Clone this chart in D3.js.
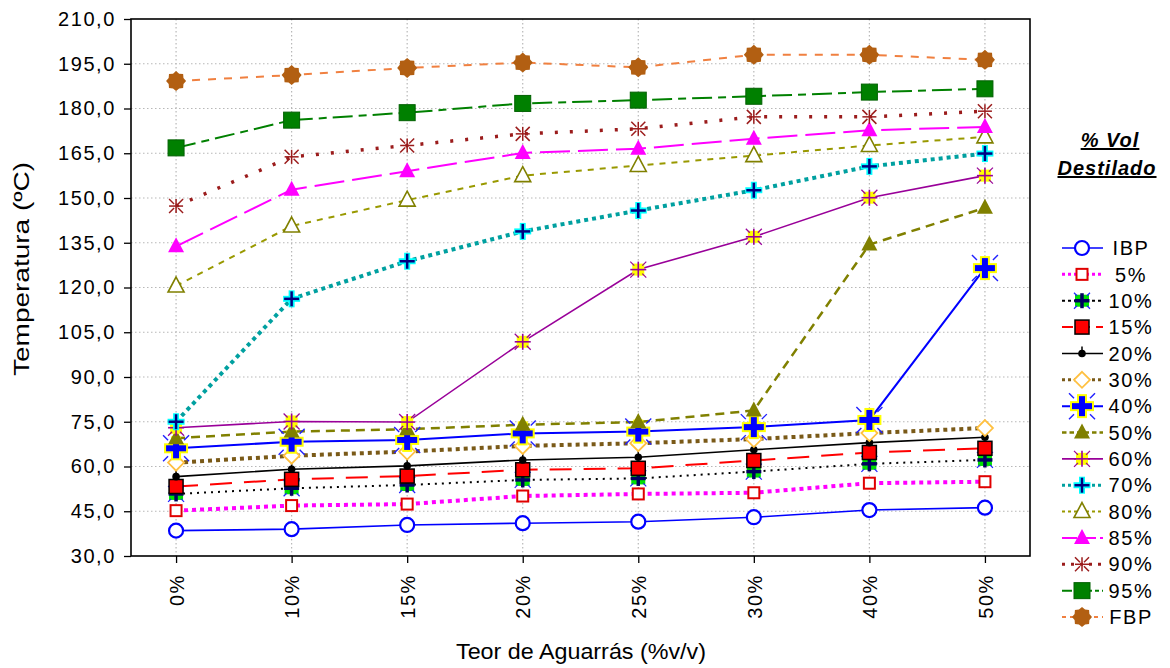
<!DOCTYPE html>
<html>
<head>
<meta charset="utf-8">
<script src="https://cdn.jsdelivr.net/npm/d3@7"></script>
<style>
  body { margin: 0; background: #fff; }
  svg text { font-family: "Liberation Sans", Arial, sans-serif; fill: #000; }
</style>
</head>
<body>
<svg class="chart"></svg>
<script>
const size = {w: 1170, h: 668};
const plot = {left: 131, right: 1030, top: 19, bottom: 556};

// categories on the x axis
const categories = ['0%', '10%', '15%', '20%', '25%', '30%', '40%', '50%'];
const yTicks = [30, 45, 60, 75, 90, 105, 120, 135, 150, 165, 180, 195, 210];

// one array per distillation point (temperature in ºC)
const seriesNames = ['IBP', '5%', '10%', '15%', '20%', '30%', '40%', '50%', '60%', '70%', '80%', '85%', '90%', '95%', 'FBP'];
const ibp  = [38.5, 39.0, 40.4, 41.0, 41.5, 43.0, 45.4, 46.2];
const p5   = [45.2, 46.9, 47.4, 50.1, 50.8, 51.2, 54.4, 54.9];
const p10  = [50.8, 52.7, 53.8, 55.5, 56.0, 58.3, 60.9, 62.2];
const p15  = [53.3, 55.7, 56.8, 58.9, 59.4, 62.0, 64.7, 66.1];
const p20  = [56.6, 59.1, 60.2, 62.2, 63.1, 65.6, 68.0, 69.8];
const p30  = [61.3, 63.6, 65.0, 66.9, 67.8, 69.2, 71.2, 72.9];
const p40  = [66.1, 68.3, 68.9, 71.1, 71.7, 73.2, 75.6, 126.5];
const p50  = [69.5, 71.7, 72.5, 74.0, 74.9, 78.8, 134.4, 146.7];
const p60  = [73.0, 75.1, 74.9, 101.8, 126.0, 137.0, 150.1, 157.5];
const p70  = [75.0, 116.2, 128.8, 138.8, 145.8, 152.6, 160.6, 164.9];
const p80  = [120.5, 140.6, 149.3, 157.5, 160.9, 164.2, 167.6, 170.5];
const p85  = [133.8, 152.8, 159.0, 165.1, 166.5, 169.9, 172.7, 173.8];
const p90  = [147.3, 163.8, 167.6, 171.5, 173.2, 177.2, 177.2, 179.1];
const p95  = [166.8, 176.1, 178.6, 181.7, 182.8, 184.1, 185.5, 186.6];
const fbp  = [189.2, 191.2, 193.6, 195.4, 193.8, 198.0, 198.0, 196.3];
const seriesValues = [ibp, p5, p10, p15, p20, p30, p40, p50, p60, p70, p80, p85, p90, p95, fbp];

// line + marker style for each series
const styles = [
  {color: '#0000ff', width: 1.6, dash: null,        marker: 'circleOpen'},
  {color: '#ff00ff', width: 4,   dash: '4,4',       marker: 'squareOpen'},
  {color: '#000000', width: 2,   dash: '2,5',       marker: 'greenCross'},
  {color: '#ff0000', width: 2,   dash: '22,12',     marker: 'squareRed'},
  {color: '#000000', width: 1.6, dash: null,        marker: 'dot'},
  {color: '#7a5a18', width: 4,   dash: '4,4',       marker: 'diamondOpen'},
  {color: '#0000ff', width: 2,   dash: null,        marker: 'bigPlus'},
  {color: '#808000', width: 2.5, dash: '9,6',       marker: 'triOlive'},
  {color: '#990099', width: 1.6, dash: null,        marker: 'purpleStar'},
  {color: '#00a0a0', width: 4,   dash: '4,4',       marker: 'cyanPlus'},
  {color: '#999900', width: 2,   dash: '6,6',       marker: 'triOpen'},
  {color: '#ff00ff', width: 2,   dash: '30,8',      marker: 'triMagenta'},
  {color: '#9b1c1c', width: 3.5, dash: '3,12',      marker: 'asterisk'},
  {color: '#008000', width: 2,   dash: '20,6,8,6',  marker: 'squareGreen'},
  {color: '#f08040', width: 2,   dash: '8,8',       marker: 'gear'}
];

const svg = d3.select('svg.chart')
  .attr('width', size.w)
  .attr('height', size.h);

const x = d3.scalePoint()
  .domain(categories)
  .range([plot.left, plot.right])
  .padding(0.39);

const y = d3.scaleLinear()
  .domain([30, 210])
  .range([plot.bottom, plot.top]);

// --------- GRID ----------
const grid = svg.append('g').attr('class', 'grid');
grid.selectAll('line.h')
  .data(yTicks.slice(1, -1))
  .join('line')
  .attr('x1', plot.left).attr('x2', plot.right)
  .attr('y1', d => y(d)).attr('y2', d => y(d))
  .attr('stroke', '#b8b8b8').attr('stroke-width', 1.2).attr('stroke-dasharray', '1.5,2.5');
grid.selectAll('line.v')
  .data(categories)
  .join('line')
  .attr('x1', d => x(d)).attr('x2', d => x(d))
  .attr('y1', plot.top).attr('y2', plot.bottom)
  .attr('stroke', '#b8b8b8').attr('stroke-width', 1.2).attr('stroke-dasharray', '1.5,2.5');

// --------- AXES ----------
const fmt = d => d3.format('.1f')(d).replace('.', ',');

const yAxis = d3.axisLeft(y).tickValues(yTicks).tickFormat(fmt).tickSize(7).tickPadding(8);
const yG = svg.append('g')
  .attr('transform', `translate(${plot.left},0)`)
  .call(yAxis);
yG.select('.domain').remove();
yG.selectAll('text')
  .style('font-size', '20px')
  .style('letter-spacing', '1.6px')
  .style('font-family', '"Liberation Sans", Arial, sans-serif');

const xAxis = d3.axisBottom(x).tickSize(7).tickPadding(0);
const xG = svg.append('g')
  .attr('transform', `translate(0,${plot.bottom})`)
  .call(xAxis);
xG.select('.domain').remove();
xG.selectAll('text')
  .attr('transform', 'rotate(-90)')
  .attr('x', -18)
  .attr('y', 0)
  .attr('dy', '0.36em')
  .attr('text-anchor', 'end')
  .style('font-size', '20px')
  .style('letter-spacing', '1.6px')
  .style('font-family', '"Liberation Sans", Arial, sans-serif');

svg.selectAll('.tick line').attr('stroke', '#000').attr('stroke-width', 1.3);

// frame
svg.append('rect')
  .attr('x', plot.left).attr('y', plot.top)
  .attr('width', plot.right - plot.left).attr('height', plot.bottom - plot.top)
  .attr('fill', 'none').attr('stroke', '#000').attr('stroke-width', 1.6);

// axis titles (condensed look in the original, so stretch to its width)
svg.append('text')
  .attr('x', 581)
  .attr('y', 659)
  .attr('text-anchor', 'middle')
  .attr('textLength', 250)
  .attr('lengthAdjust', 'spacingAndGlyphs')
  .style('font-size', '22px')
  .text('Teor de Aguarrás (%v/v)');

svg.append('text')
  .attr('transform', 'translate(29,269) rotate(-90)')
  .attr('text-anchor', 'middle')
  .attr('textLength', 214)
  .attr('lengthAdjust', 'spacingAndGlyphs')
  .style('font-size', '22px')
  .text('Temperatura (ºC)');

// --------- MARKERS ----------
function plus(g, len, w, color) {
  g.append('line').attr('x1', -len / 2).attr('x2', len / 2).attr('y1', 0).attr('y2', 0)
    .attr('stroke', color).attr('stroke-width', w);
  g.append('line').attr('x1', 0).attr('x2', 0).attr('y1', -len / 2).attr('y2', len / 2)
    .attr('stroke', color).attr('stroke-width', w);
}
function rays(g, r1, r2, color, w) {
  [[1, 1], [1, -1], [-1, 1], [-1, -1]].forEach(([sx, sy]) => {
    g.append('line')
      .attr('x1', sx * r1).attr('y1', sy * r1).attr('x2', sx * r2).attr('y2', sy * r2)
      .attr('stroke', color).attr('stroke-width', w);
  });
}

function drawMarker(g, type) {
  switch (type) {
    case 'circleOpen':
      g.append('circle').attr('r', 7).attr('fill', '#fff').attr('stroke', '#0000ff').attr('stroke-width', 2.2);
      break;
    case 'squareOpen':
      g.append('rect').attr('x', -5.5).attr('y', -5.5).attr('width', 11).attr('height', 11)
        .attr('fill', '#fff').attr('stroke', '#e00000').attr('stroke-width', 2);
      break;
    case 'greenCross':
      g.append('rect').attr('x', -7).attr('y', -6).attr('width', 14).attr('height', 12).attr('fill', '#00e000');
      rays(g, 5, 8, '#2020ff', 1.2);
      plus(g, 15, 3.5, '#000060');
      break;
    case 'squareRed':
      g.append('rect').attr('x', -7).attr('y', -7).attr('width', 14).attr('height', 14)
        .attr('fill', '#ff0000').attr('stroke', '#000').attr('stroke-width', 1.5);
      break;
    case 'dot':
      g.append('line').attr('x1', 0).attr('x2', 0).attr('y1', -7).attr('y2', 0).attr('stroke', '#000').attr('stroke-width', 1.5);
      g.append('circle').attr('r', 3.8).attr('fill', '#000');
      break;
    case 'diamondOpen':
      g.append('path').attr('d', 'M0,-8L8,0L0,8L-8,0Z')
        .attr('fill', '#fff').attr('stroke', '#ffc040').attr('stroke-width', 1.8);
      break;
    case 'bigPlus':
      rays(g, 8, 13, '#2020ff', 1.4);
      plus(g, 24, 10, '#ffff00');
      plus(g, 20, 6, '#0000ff');
      break;
    case 'triOlive':
      g.append('path').attr('d', 'M0,-9L8,6L-8,6Z').attr('fill', '#808000');
      break;
    case 'purpleStar':
      g.append('rect').attr('x', -6).attr('y', -6).attr('width', 12).attr('height', 12).attr('fill', '#ffff00');
      rays(g, 4, 8, '#990099', 1.2);
      plus(g, 16, 1.6, '#990099');
      break;
    case 'cyanPlus':
      plus(g, 17, 6, '#00ffff');
      plus(g, 15, 2.5, '#000080');
      break;
    case 'triOpen':
      g.append('path').attr('d', 'M0,-9L8,6L-8,6Z')
        .attr('fill', '#fff').attr('stroke', '#808000').attr('stroke-width', 1.6);
      break;
    case 'triMagenta':
      g.append('path').attr('d', 'M0,-9L8,6L-8,6Z').attr('fill', '#ff00ff');
      break;
    case 'asterisk':
      plus(g, 14, 1.5, '#9b1c1c');
      rays(g, 2, 7, '#9b1c1c', 1.5);
      break;
    case 'squareGreen':
      g.append('rect').attr('x', -8).attr('y', -8).attr('width', 16).attr('height', 16)
        .attr('fill', '#008000').attr('stroke', '#006000').attr('stroke-width', 1);
      break;
    case 'gear': {
      const pts = d3.range(16).map(i => {
        const a = i * Math.PI / 8;
        const r = i % 2 === 0 ? 10 : 8;
        return [r * Math.sin(a), -r * Math.cos(a)];
      });
      g.append('path').attr('d', d3.line()(pts) + 'Z').attr('fill', '#b25f12');
      break;
    }
  }
}

// --------- LINES ----------
const lineGen = d3.line()
  .x((d, i) => x(categories[i]))
  .y(d => y(d));

const linesG = svg.append('g').attr('class', 'lines');
linesG.selectAll('path')
  .data(seriesValues)
  .join('path')
  .attr('d', d => lineGen(d))
  .attr('fill', 'none')
  .attr('stroke', (d, i) => styles[i].color)
  .attr('stroke-width', (d, i) => styles[i].width)
  .attr('stroke-dasharray', (d, i) => styles[i].dash);

const markersG = svg.append('g').attr('class', 'markers');
seriesValues.forEach((vals, si) => {
  vals.forEach((v, i) => {
    const g = markersG.append('g').attr('transform', `translate(${x(categories[i])},${y(v)})`);
    drawMarker(g, styles[si].marker);
  });
});

// --------- LEGEND ----------
const legend = svg.append('g').attr('class', 'legend');
const legTitle = legend.append('text')
  .attr('text-anchor', 'middle')
  .style('font-size', '20px')
  .style('font-weight', 'bold')
  .style('font-style', 'italic')
  .style('letter-spacing', '1px')
  .style('text-decoration', 'underline');
legTitle.append('tspan').attr('x', 1110).attr('y', 147).text('% Vol');
legTitle.append('tspan').attr('x', 1107).attr('y', 175).text('Destilado');

const legY = d3.scalePoint().domain(seriesNames).range([248, 617]);

const legItems = legend.selectAll('g.item')
  .data(seriesNames)
  .join('g')
  .attr('class', 'item')
  .attr('transform', d => `translate(0,${legY(d)})`);

legItems.append('line')
  .attr('x1', 1062).attr('x2', 1103)
  .attr('y1', 0).attr('y2', 0)
  .attr('stroke', (d, i) => styles[i].color)
  .attr('stroke-width', (d, i) => Math.min(styles[i].width, 3))
  .attr('stroke-dasharray', (d, i) => styles[i].dash ? styles[i].dash.split(',').map(v => Math.max(3, +v / 2)).join(',') : null);

legItems.each(function (d, i) {
  const g = d3.select(this).append('g').attr('transform', 'translate(1082,0)');
  drawMarker(g, styles[i].marker);
});

legItems.append('text')
  .attr('x', 1131)
  .attr('y', 0)
  .attr('dy', '0.36em')
  .attr('text-anchor', 'middle')
  .style('font-size', '20px')
  .style('letter-spacing', '1.6px')
  .text(d => d);
</script>
</body>
</html>
